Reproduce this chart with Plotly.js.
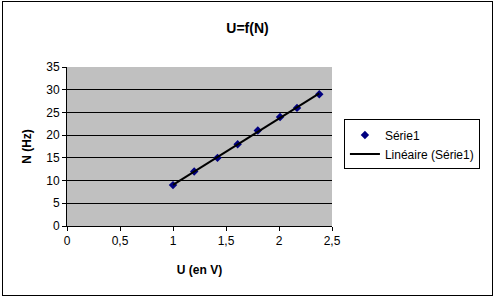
<!DOCTYPE html>
<html><head><meta charset="utf-8">
<script src="https://cdn.plot.ly/plotly-3.0.1.min.js"></script>
<style>
html,body{margin:0;padding:0;background:#fff;}
#frame{position:absolute;left:2px;top:1px;width:489px;height:293px;border:1px solid #000;pointer-events:none;z-index:10;}
#chart{position:absolute;left:0;top:0;width:495px;height:298px;}
</style></head>
<body>
<div id="chart"></div><div id="frame"></div>
<script>
const uValues = [1.0, 1.2, 1.42, 1.61, 1.8, 2.01, 2.17, 2.38];
const nValues = [9, 12, 15, 18, 21, 24, 26, 29];
const seriesName = "Série1";
const trendName = "Linéaire (Série1)";
const chartTitle = "U=f(N)";
const xTitle = "U (en V)";
const yTitle = "N (Hz)";

// least-squares linear trendline
const n = uValues.length;
const mx = uValues.reduce((a,b)=>a+b,0)/n;
const my = nValues.reduce((a,b)=>a+b,0)/n;
let sxy=0, sxx=0;
for(let i=0;i<n;i++){sxy+=(uValues[i]-mx)*(nValues[i]-my);sxx+=(uValues[i]-mx)**2;}
const slope=sxy/sxx, icpt=my-slope*mx;
const tx=[Math.min(...uValues), Math.max(...uValues)];
const ty=tx.map(x=>slope*x+icpt);

const fam = '"Liberation Sans", Arial, sans-serif';
const font = {family:fam, size:12, color:'#000'};
const data = [
 {x:uValues, y:nValues, type:'scatter', mode:'markers', name:seriesName,
  marker:{symbol:'diamond', color:'#000080', size:6.5}},
 {x:tx, y:ty, type:'scatter', mode:'lines', name:trendName,
  line:{color:'#000', width:2}}
];
const layout = {
 width:495, height:298,
 margin:{l:67, r:163, t:67, b:72},
 paper_bgcolor:'#fff', plot_bgcolor:'#c0c0c0',
 font:font,
 separators:', ',
 title:{text:'<b>'+chartTitle+'</b>', x:0.5, xanchor:'center', y:0.905, yanchor:'middle', font:{family:fam, size:14, color:'#000'}},
 xaxis:{range:[0,2.5], dtick:0.5, tick0:0, showgrid:false, zeroline:false, showline:true, linecolor:'#000', linewidth:1,
   ticks:'outside', ticklen:4, tickcolor:'#000', mirror:false, tickfont:{family:fam,size:12,color:'#000'},
   title:{text:'<b>'+xTitle+'</b>', standoff:18, font:{family:fam,size:12,color:'#000'}}},
 yaxis:{range:[0,35], dtick:5, tick0:0, showgrid:true, gridcolor:'#000', gridwidth:1, zeroline:false, showline:true, linecolor:'#000', linewidth:1,
   ticks:'outside', ticklen:4, tickcolor:'#000', tickfont:{family:fam,size:12,color:'#000'},
   title:{text:'<b>'+yTitle+'</b>', standoff:12, font:{family:fam,size:12,color:'#000'}}},
 showlegend:true,
 legend:{x:1.045, y:0.67, xanchor:'left', yanchor:'top', bgcolor:'#fff', bordercolor:'#000', borderwidth:1,
   font:{family:fam,size:12,color:'#000'}, tracegroupgap:0, itemwidth:30}
};
Plotly.newPlot('chart', data, layout, {displayModeBar:false, staticPlot:true});
</script>
</body></html>
